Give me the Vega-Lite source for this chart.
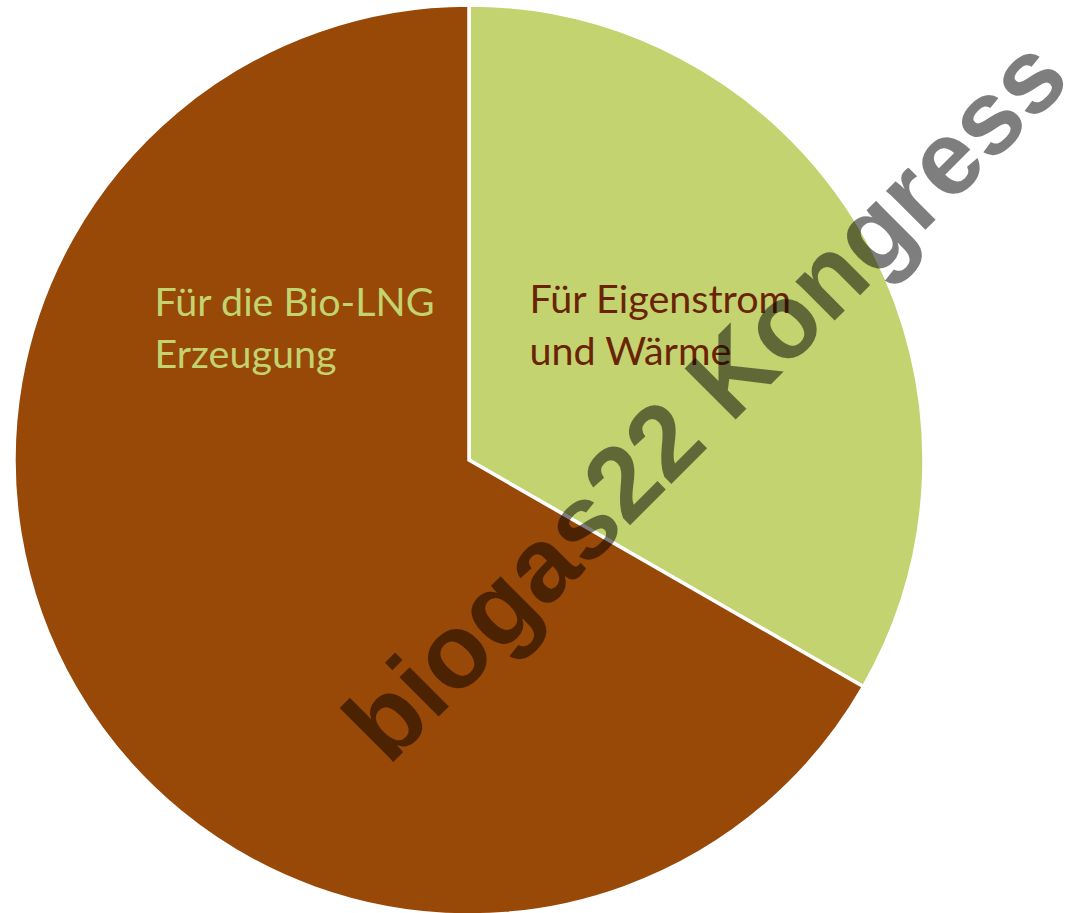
{
  "$schema": "https://vega.github.io/schema/vega-lite/v6.json",
  "autosize": {"type": "none"},
  "width": 910,
  "height": 910,
  "padding": {"left": 14, "top": 5, "right": 152, "bottom": 0},
  "background": "white",
  "view": {"stroke": null},
  "data": {
    "values": [
      {"kategorie": "Für Eigenstrom\nund Wärme", "anteil": 33.3},
      {"kategorie": "Für die Bio-LNG\nErzeugung", "anteil": 66.7}
    ]
  },
  "encoding": {
    "theta": {"field": "anteil", "type": "quantitative", "stack": true},
    "order": {"field": "anteil", "type": "quantitative", "sort": "ascending"}
  },
  "layer": [
    {
      "mark": {"type": "arc", "stroke": "white", "strokeWidth": 3.5},
      "encoding": {
        "color": {
          "field": "kategorie",
          "type": "nominal",
          "scale": {"domain": ["Für Eigenstrom\nund Wärme", "Für die Bio-LNG\nErzeugung"], "range": ["#c2d36f", "#984807"]},
          "legend": null
        }
      }
    },
    {
      "transform": [{"filter": "datum.anteil < 50"}],
      "mark": {"type": "text", "font": "Lato", "fontSize": 39.5, "align": "left", "baseline": "alphabetic", "lineBreak": "\n", "lineHeight": 52, "color": "#6a2405", "dx": -78, "dy": -67},
      "encoding": {
        "radius": {"value": 160},
        "text": {"field": "kategorie"}
      }
    },
    {
      "transform": [{"filter": "datum.anteil > 50"}],
      "mark": {"type": "text", "font": "Lato", "fontSize": 39.5, "align": "left", "baseline": "alphabetic", "lineBreak": "\n", "lineHeight": 52, "color": "#c2d36f", "dx": -453, "dy": -224},
      "encoding": {
        "radius": {"value": 160},
        "text": {"field": "kategorie"}
      }
    },
    {
      "data": {"values": [{"wasserzeichen": "biogas22 Kongress"}]},
      "mark": {"type": "text", "font": "Liberation Sans", "fontWeight": "bold", "fontSize": 105, "align": "center", "baseline": "middle", "angle": -45, "color": "black", "opacity": 0.5, "dx": 210, "dy": 128},
      "encoding": {
        "theta": null,
        "order": null,
        "text": {"field": "wasserzeichen"}
      }
    }
  ]
}
